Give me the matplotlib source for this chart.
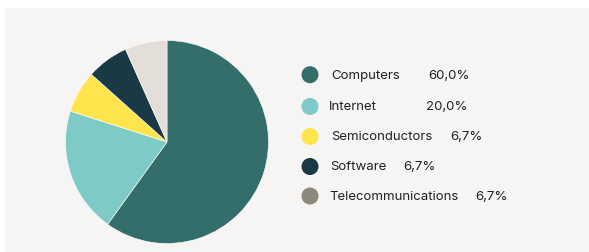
import matplotlib
matplotlib.use("Agg")
import matplotlib.pyplot as plt
from matplotlib.patches import Rectangle

# Data
categories = ["Computers", "Internet", "Semiconductors", "Software", "Telecommunications"]
shares = [60.0, 20.0, 6.7, 6.7, 6.7]
pie_colors = ["#336e6b", "#7ecac6", "#ffe44d", "#193945", "#e3ded8"]
legend_colors = ["#336e6b", "#7ecac6", "#ffe44d", "#193945", "#8c887c"]

# Legend layout (pixel positions, top-left origin)
label_x = [331, 328.5, 331, 330, 329]
value_x = [428, 426, 450, 403, 475]
row_y = [75.7, 107.5, 137.5, 167.5, 197]
marker_x = 310

W, H = 589, 253
plt.rcParams["font.family"] = ["Inter", "DejaVu Sans"]

fig = plt.figure(figsize=(W / 100, H / 100), dpi=100)
fig.patch.set_facecolor("white")

# Background panel + legend overlay in pixel coords
lax = fig.add_axes([0, 0, 1, 1], zorder=0)
lax.set_xlim(0, W)
lax.set_ylim(H, 0)
lax.axis("off")
lax.add_patch(Rectangle((5, 9), W - 5, 243.5, facecolor="#f6f5f3",
                        edgecolor="none", zorder=0))

for i, name in enumerate(categories):
    lax.scatter(marker_x, row_y[i], s=150, color=legend_colors[i], edgecolors="none", zorder=2)
    lax.text(label_x[i], row_y[i], name, fontsize=9.5, color="#222222", va="center", ha="left")
    lax.text(value_x[i], row_y[i], f"{shares[i]:.1f}%".replace(".", ","),
             fontsize=9.5, color="#222222", va="center", ha="left")

# Pie
cx, cy, r = 167, 143, 101.5
ax = fig.add_axes([(cx - r) / W, (H - cy - r) / H, 2 * r / W, 2 * r / H], zorder=1)
ax.pie(shares, colors=pie_colors, startangle=90, counterclock=False, radius=1,
       wedgeprops=dict(edgecolor="white", linewidth=0.4))
ax.set_xlim(-1, 1)
ax.set_ylim(-1, 1)
ax.set_aspect("equal")
ax.axis("off")

fig.savefig("out.png", dpi=100, facecolor="white")
